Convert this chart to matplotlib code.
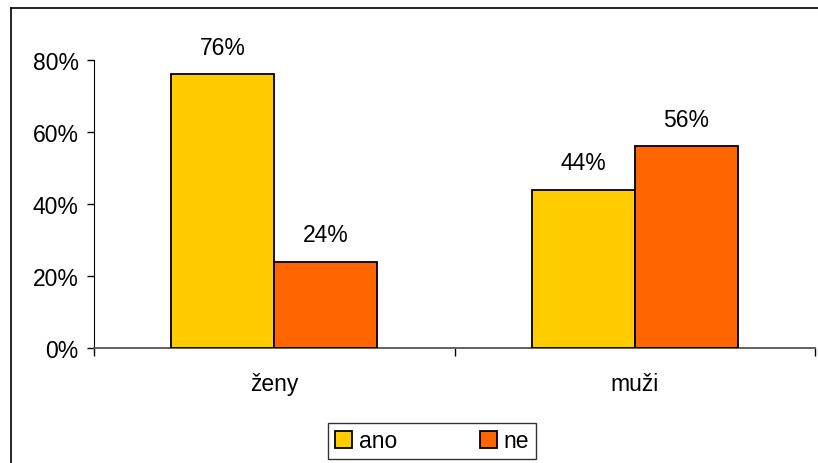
import matplotlib
matplotlib.use("Agg")
import matplotlib.pyplot as plt
from matplotlib.lines import Line2D
from matplotlib.patches import Patch
import numpy as np

categories = ["ženy", "muži"]
series_names = ["ano", "ne"]
ano = [0.76, 0.44]
ne = [0.24, 0.56]
yticks = [0, 0.2, 0.4, 0.6, 0.8]
ytick_labels = ["0%", "20%", "40%", "60%", "80%"]
colors = ["#FFCC00", "#FF6600"]

plt.rcParams['font.family'] = ['Liberation Sans', 'DejaVu Sans']
FS = 16.5

W, H = 818, 464
fig = plt.figure(figsize=(W / 100, H / 100), dpi=100)

# outer chart border (extends past right and bottom edges)
fig.add_artist(Line2D([11 / W, 11 / W], [1 - 9 / H, -0.1], color="black", lw=1.2, transform=fig.transFigure))
fig.add_artist(Line2D([11 / W, 1.1], [1 - 9 / H, 1 - 9 / H], color="black", lw=1.2, transform=fig.transFigure))

ax = fig.add_axes([94 / W, 1 - 349 / H, (815 - 94) / W, (349 - 61) / H])

x = np.arange(len(categories))
bw = 0.286
vals = [ano, ne]
for i, (name, v) in enumerate(zip(series_names, vals)):
    pos = x + (i - 0.5) * bw
    bars = ax.bar(pos, v, width=bw, color=colors[i], edgecolor="black", linewidth=1.3, label=name, zorder=3)
    for b, val in zip(bars, v):
        ax.annotate(f"{round(val * 100)}%", (b.get_x() + b.get_width() / 2, val),
                    xytext=(0, 11), textcoords="offset points", ha="center", va="bottom",
                    fontsize=FS, annotation_clip=False)

ax.set_xlim(-0.5, len(categories) - 0.5)
ax.set_ylim(0, 0.8)
ax.set_yticks(yticks)
ax.set_yticklabels(ytick_labels, fontsize=FS)
ax.set_xticks(x)
ax.set_xticklabels(categories, fontsize=FS)
ax.tick_params(axis="x", length=0, pad=17)
ax.tick_params(axis="y", length=5, width=1, direction="out", pad=6)
# category boundary ticks
ax.set_xticks([-0.5, 0.5, 1.5], minor=True)
ax.tick_params(axis="x", which="minor", length=6, width=1, direction="out")

for s in ["top", "right"]:
    ax.spines[s].set_visible(False)
ax.spines["left"].set_color("black")
ax.spines["bottom"].set_color("#555555")
ax.spines["bottom"].set_linewidth(1.3)

handles = [Patch(facecolor=c, edgecolor="black", linewidth=1.3) for c in colors]
leg = fig.legend(handles, series_names, loc="center", bbox_to_anchor=(432 / W, 1 - 442 / H),
                 ncol=2, fontsize=FS, frameon=True, fancybox=False, edgecolor="black",
                 handlelength=0.75, handleheight=0.75, handletextpad=0.3, columnspacing=3.6,
                 borderpad=0.3, borderaxespad=0)
leg.get_frame().set_linewidth(1.0)

fig.savefig("out.png", dpi=100)
